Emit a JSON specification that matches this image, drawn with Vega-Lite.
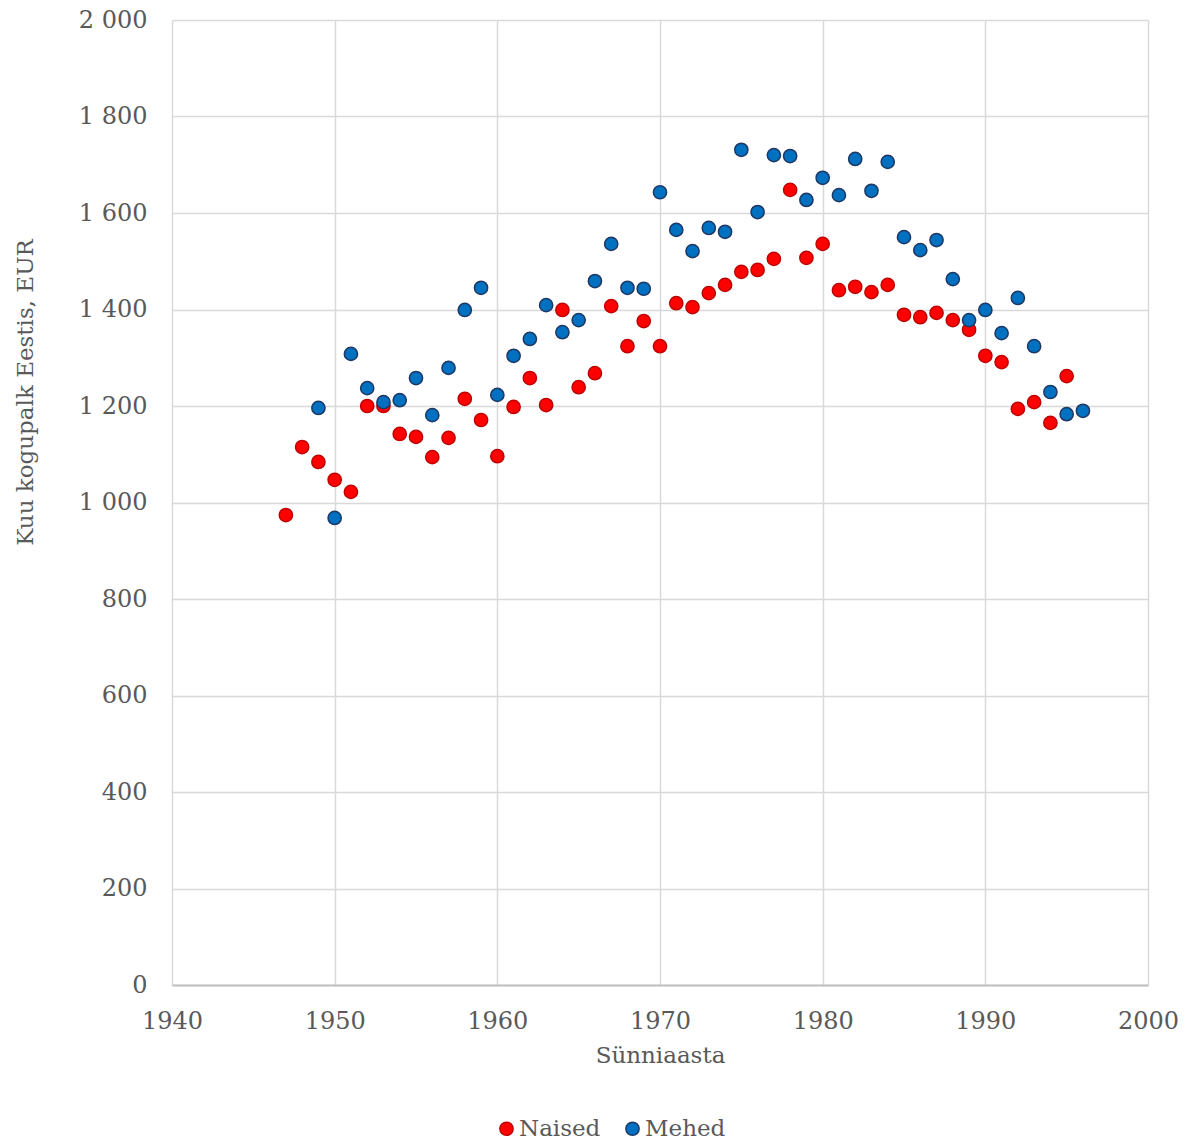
{
  "$schema": "https://vega.github.io/schema/vega-lite/v6.json",
  "width": 976,
  "height": 965,
  "autosize": "none",
  "padding": {"left": 172, "top": 20, "right": 39, "bottom": 157},
  "background": "#ffffff",
  "config": {
    "view": {"stroke": null},
    "font": "DejaVu Serif"
  },
  "data": {
    "values": [
      {"aasta": 1947, "palk": 974, "sugu": "Naised"},
      {"aasta": 1948, "palk": 1115, "sugu": "Naised"},
      {"aasta": 1949, "palk": 1084, "sugu": "Naised"},
      {"aasta": 1950, "palk": 1047, "sugu": "Naised"},
      {"aasta": 1951, "palk": 1022, "sugu": "Naised"},
      {"aasta": 1952, "palk": 1200, "sugu": "Naised"},
      {"aasta": 1953, "palk": 1200, "sugu": "Naised"},
      {"aasta": 1954, "palk": 1142, "sugu": "Naised"},
      {"aasta": 1955, "palk": 1136, "sugu": "Naised"},
      {"aasta": 1956, "palk": 1094, "sugu": "Naised"},
      {"aasta": 1957, "palk": 1134, "sugu": "Naised"},
      {"aasta": 1958, "palk": 1215, "sugu": "Naised"},
      {"aasta": 1959, "palk": 1171, "sugu": "Naised"},
      {"aasta": 1960, "palk": 1096, "sugu": "Naised"},
      {"aasta": 1961, "palk": 1198, "sugu": "Naised"},
      {"aasta": 1962, "palk": 1258, "sugu": "Naised"},
      {"aasta": 1963, "palk": 1202, "sugu": "Naised"},
      {"aasta": 1964, "palk": 1399, "sugu": "Naised"},
      {"aasta": 1965, "palk": 1239, "sugu": "Naised"},
      {"aasta": 1966, "palk": 1268, "sugu": "Naised"},
      {"aasta": 1967, "palk": 1407, "sugu": "Naised"},
      {"aasta": 1968, "palk": 1324, "sugu": "Naised"},
      {"aasta": 1969, "palk": 1376, "sugu": "Naised"},
      {"aasta": 1970, "palk": 1324, "sugu": "Naised"},
      {"aasta": 1971, "palk": 1413, "sugu": "Naised"},
      {"aasta": 1972, "palk": 1405, "sugu": "Naised"},
      {"aasta": 1973, "palk": 1434, "sugu": "Naised"},
      {"aasta": 1974, "palk": 1451, "sugu": "Naised"},
      {"aasta": 1975, "palk": 1478, "sugu": "Naised"},
      {"aasta": 1976, "palk": 1482, "sugu": "Naised"},
      {"aasta": 1977, "palk": 1505, "sugu": "Naised"},
      {"aasta": 1978, "palk": 1648, "sugu": "Naised"},
      {"aasta": 1979, "palk": 1507, "sugu": "Naised"},
      {"aasta": 1980, "palk": 1536, "sugu": "Naised"},
      {"aasta": 1981, "palk": 1440, "sugu": "Naised"},
      {"aasta": 1982, "palk": 1447, "sugu": "Naised"},
      {"aasta": 1983, "palk": 1436, "sugu": "Naised"},
      {"aasta": 1984, "palk": 1451, "sugu": "Naised"},
      {"aasta": 1985, "palk": 1389, "sugu": "Naised"},
      {"aasta": 1986, "palk": 1384, "sugu": "Naised"},
      {"aasta": 1987, "palk": 1393, "sugu": "Naised"},
      {"aasta": 1988, "palk": 1378, "sugu": "Naised"},
      {"aasta": 1989, "palk": 1358, "sugu": "Naised"},
      {"aasta": 1990, "palk": 1304, "sugu": "Naised"},
      {"aasta": 1991, "palk": 1291, "sugu": "Naised"},
      {"aasta": 1992, "palk": 1194, "sugu": "Naised"},
      {"aasta": 1993, "palk": 1208, "sugu": "Naised"},
      {"aasta": 1994, "palk": 1165, "sugu": "Naised"},
      {"aasta": 1995, "palk": 1262, "sugu": "Naised"},
      {"aasta": 1949, "palk": 1196, "sugu": "Mehed"},
      {"aasta": 1950, "palk": 968, "sugu": "Mehed"},
      {"aasta": 1951, "palk": 1308, "sugu": "Mehed"},
      {"aasta": 1952, "palk": 1237, "sugu": "Mehed"},
      {"aasta": 1953, "palk": 1208, "sugu": "Mehed"},
      {"aasta": 1954, "palk": 1212, "sugu": "Mehed"},
      {"aasta": 1955, "palk": 1258, "sugu": "Mehed"},
      {"aasta": 1956, "palk": 1181, "sugu": "Mehed"},
      {"aasta": 1957, "palk": 1279, "sugu": "Mehed"},
      {"aasta": 1958, "palk": 1399, "sugu": "Mehed"},
      {"aasta": 1959, "palk": 1445, "sugu": "Mehed"},
      {"aasta": 1960, "palk": 1223, "sugu": "Mehed"},
      {"aasta": 1961, "palk": 1304, "sugu": "Mehed"},
      {"aasta": 1962, "palk": 1339, "sugu": "Mehed"},
      {"aasta": 1963, "palk": 1409, "sugu": "Mehed"},
      {"aasta": 1964, "palk": 1353, "sugu": "Mehed"},
      {"aasta": 1965, "palk": 1378, "sugu": "Mehed"},
      {"aasta": 1966, "palk": 1459, "sugu": "Mehed"},
      {"aasta": 1967, "palk": 1536, "sugu": "Mehed"},
      {"aasta": 1968, "palk": 1445, "sugu": "Mehed"},
      {"aasta": 1969, "palk": 1443, "sugu": "Mehed"},
      {"aasta": 1970, "palk": 1643, "sugu": "Mehed"},
      {"aasta": 1971, "palk": 1565, "sugu": "Mehed"},
      {"aasta": 1972, "palk": 1521, "sugu": "Mehed"},
      {"aasta": 1973, "palk": 1569, "sugu": "Mehed"},
      {"aasta": 1974, "palk": 1561, "sugu": "Mehed"},
      {"aasta": 1975, "palk": 1731, "sugu": "Mehed"},
      {"aasta": 1976, "palk": 1602, "sugu": "Mehed"},
      {"aasta": 1977, "palk": 1720, "sugu": "Mehed"},
      {"aasta": 1978, "palk": 1718, "sugu": "Mehed"},
      {"aasta": 1979, "palk": 1627, "sugu": "Mehed"},
      {"aasta": 1980, "palk": 1673, "sugu": "Mehed"},
      {"aasta": 1981, "palk": 1637, "sugu": "Mehed"},
      {"aasta": 1982, "palk": 1712, "sugu": "Mehed"},
      {"aasta": 1983, "palk": 1646, "sugu": "Mehed"},
      {"aasta": 1984, "palk": 1706, "sugu": "Mehed"},
      {"aasta": 1985, "palk": 1550, "sugu": "Mehed"},
      {"aasta": 1986, "palk": 1523, "sugu": "Mehed"},
      {"aasta": 1987, "palk": 1544, "sugu": "Mehed"},
      {"aasta": 1988, "palk": 1463, "sugu": "Mehed"},
      {"aasta": 1989, "palk": 1378, "sugu": "Mehed"},
      {"aasta": 1990, "palk": 1399, "sugu": "Mehed"},
      {"aasta": 1991, "palk": 1351, "sugu": "Mehed"},
      {"aasta": 1992, "palk": 1424, "sugu": "Mehed"},
      {"aasta": 1993, "palk": 1324, "sugu": "Mehed"},
      {"aasta": 1994, "palk": 1229, "sugu": "Mehed"},
      {"aasta": 1995, "palk": 1183, "sugu": "Mehed"},
      {"aasta": 1996, "palk": 1190, "sugu": "Mehed"}
    ]
  },
  "mark": {"type": "point", "shape": "circle", "filled": true, "opacity": 1, "size": 175, "strokeWidth": 1.5},
  "encoding": {
    "x": {
      "field": "aasta",
      "type": "quantitative",
      "scale": {"domain": [1940, 2000], "nice": false, "zero": false},
      "axis": {
        "values": [1940, 1950, 1960, 1970, 1980, 1990, 2000],
        "format": "d",
        "title": "Sünniaasta",
        "titleFont": "DejaVu Serif",
        "titleFontSize": 23,
        "titleFontWeight": "normal",
        "titleColor": "#595959",
        "titlePadding": 11,
        "labelFont": "DejaVu Serif",
        "labelFontSize": 24,
        "labelColor": "#595959",
        "labelPadding": 24,
        "labelFlush": false,
        "labelOverlap": false,
        "ticks": false,
        "domain": true,
        "domainColor": "#BFBFBF",
        "domainWidth": 2,
        "grid": true,
        "gridColor": "#D9D9D9",
        "gridWidth": 1.5
      }
    },
    "y": {
      "field": "palk",
      "type": "quantitative",
      "scale": {"domain": [0, 2000], "nice": false},
      "axis": {
        "values": [0, 200, 400, 600, 800, 1000, 1200, 1400, 1600, 1800, 2000],
        "labelExpr": "replace(format(datum.value, ','), ',', ' ')",
        "title": "Kuu kogupalk Eestis, EUR",
        "titleFont": "DejaVu Serif",
        "titleFontSize": 23,
        "titleFontWeight": "normal",
        "titleColor": "#595959",
        "titleAngle": -90,
        "titleAnchor": "middle",
        "titleX": -147,
        "titleY": 372,
        "titleBaseline": "middle",
        "labelFont": "DejaVu Serif",
        "labelFontSize": 24,
        "labelColor": "#595959",
        "labelPadding": 25,
        "labelFlush": false,
        "labelOverlap": false,
        "ticks": false,
        "domain": false,
        "grid": true,
        "gridColor": "#D9D9D9",
        "gridWidth": 1.5
      }
    },
    "color": {
      "field": "sugu",
      "type": "nominal",
      "scale": {"domain": ["Naised", "Mehed"], "range": ["#FF0000", "#0070C0"]},
      "legend": {
        "title": null,
        "orient": "none",
        "direction": "horizontal",
        "legendX": 323,
        "legendY": 1097,
        "labelFont": "DejaVu Serif",
        "labelFontSize": 23,
        "labelColor": "#595959",
        "symbolSize": 175,
        "symbolStrokeWidth": 1.5,
        "columnPadding": 20,
        "labelOffset": 1
      }
    },
    "stroke": {
      "field": "sugu",
      "type": "nominal",
      "scale": {"domain": ["Naised", "Mehed"], "range": ["#C00000", "#1F3864"]},
      "legend": null
    },
    "order": {"field": "sugu", "sort": "descending"}
  }
}
